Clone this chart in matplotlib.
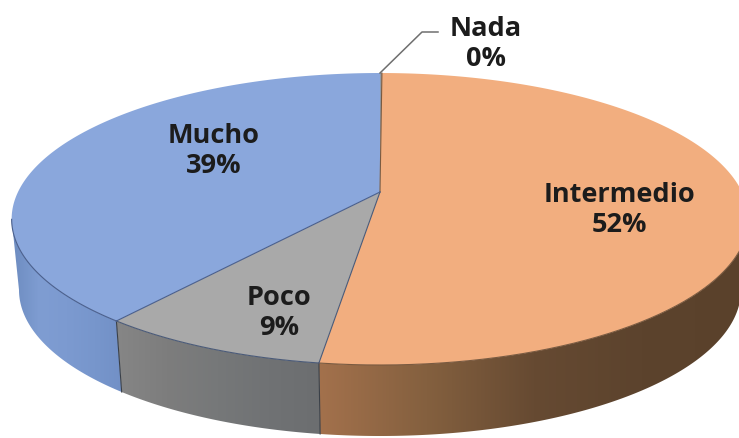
import matplotlib
matplotlib.use('Agg')
import matplotlib.pyplot as plt
import numpy as np
from matplotlib.colors import LinearSegmentedColormap
from matplotlib.patches import Polygon

# datos del grafico
categorias = ['Nada', 'Intermedio', 'Poco', 'Mucho']
porcentajes = [0.1, 52.1, 8.5, 39.3]

colores_top = ['#8f9aa8', '#f2ae7f', '#a9a9a9', '#8aa7dc']
colores_borde = ['#6f6f6f', '#7a5a40', '#4a5a78', '#4a5f8c']
pos_etiquetas = [(486, 44), (619, 210), (279, 313), (214, 151)]

# degradados de la pared lateral (de izquierda a derecha)
grad_lados = {
    'Intermedio': ['#a3714c', '#84603f', '#664a32', '#5c432d', '#5a412b'],
    'Poco': ['#868686', '#7d7d7d', '#767879', '#707274', '#6c6e70'],
    'Mucho': ['#6d8cc0', '#7f9dd2', '#7c9ad0', '#7796cc', '#7290c6'],
}

# perspectiva del disco (todo en pixeles de la imagen)
CX, CY = 380, 193
A, B, K = 362, 141, -0.185
PROF = 71
ESC_BASE = 0.98
# angulos donde la silueta del disco es mas ancha
ANG_DER = np.degrees(np.arccos(K))
ANG_IZQ = 360 - ANG_DER


def proyectar(theta, base=False):
    """Angulo en grados desde arriba, sentido horario, a pixeles."""
    t = np.radians(theta)
    u, v = np.sin(t), -np.cos(t)
    w = 1 + K * v
    x, y = A * u / w, B * v / w
    if base:
        return CX + x * ESC_BASE, CY + y + PROF
    return CX + x, CY + y


fig = plt.figure(figsize=(7.39, 4.39), dpi=100)
ax = fig.add_axes([0, 0, 1, 1])
ax.axis('off')

lim = np.cumsum([0] + porcentajes) * 3.6

# paredes laterales
for i, cat in enumerate(categorias):
    if cat not in grad_lados:
        continue
    # solo la parte frontal del disco tiene pared visible
    a0v, a1v = max(lim[i], ANG_DER), min(lim[i + 1], ANG_IZQ)
    th = np.linspace(a0v, a1v, 200)
    xs, ys = proyectar(th)
    xb, yb = proyectar(th[::-1], base=True)
    poly = Polygon(np.c_[np.r_[xs, xb], np.r_[ys, yb]], closed=True, fc='none', ec='none')
    ax.add_patch(poly)
    x0, x1 = min(xs.min(), xb.min()), max(xs.max(), xb.max())
    cmap = LinearSegmentedColormap.from_list(cat, grad_lados[cat])
    im = ax.imshow(np.linspace(0, 1, 256)[None, :], cmap=cmap, aspect='auto',
                   extent=[x0, x1, 439, 0], zorder=1)
    im.set_clip_path(poly)
    if lim[i] > ANG_DER:
        ax.plot([xs[0], xb[-1]], [ys[0], yb[-1]], color='#3a4048', lw=0.8, zorder=2)
ax.set_xlim(0, 739)
ax.set_ylim(439, 0)

# cara superior
for i, cat in enumerate(categorias):
    th = np.linspace(lim[i], lim[i + 1], 300)
    xs, ys = proyectar(th)
    ax.add_patch(Polygon(np.c_[np.r_[CX, xs], np.r_[CY, ys]], closed=True,
                         fc=colores_top[i], ec='none', zorder=3))
    # borde frontal oscuro
    fr = (th > ANG_DER) & (th < ANG_IZQ)
    if fr.any():
        ax.plot(xs[fr], ys[fr], color=colores_borde[i], lw=0.8, zorder=4)

# radios entre porciones
for i, a in enumerate(lim[1:-1]):
    x, y = proyectar(a)
    ax.plot([CX, x], [CY, y], color=colores_borde[i + 1 if i else 1], lw=0.8, zorder=4)

# linea guia de Nada
ax.plot([380, 422, 438], [74, 33, 33], color='#6f6f6f', lw=1.1, zorder=4)

# etiquetas
for i, cat in enumerate(categorias):
    ax.text(*pos_etiquetas[i], f'{cat}\n{int(porcentajes[i] + 0.5)}%', ha='center', va='center',
            fontsize=19.5, fontweight='bold', family=['Open Sans', 'DejaVu Sans'],
            color='#1c1c1c', linespacing=1.2, zorder=5)

fig.savefig('out.png', dpi=100, facecolor='white')
